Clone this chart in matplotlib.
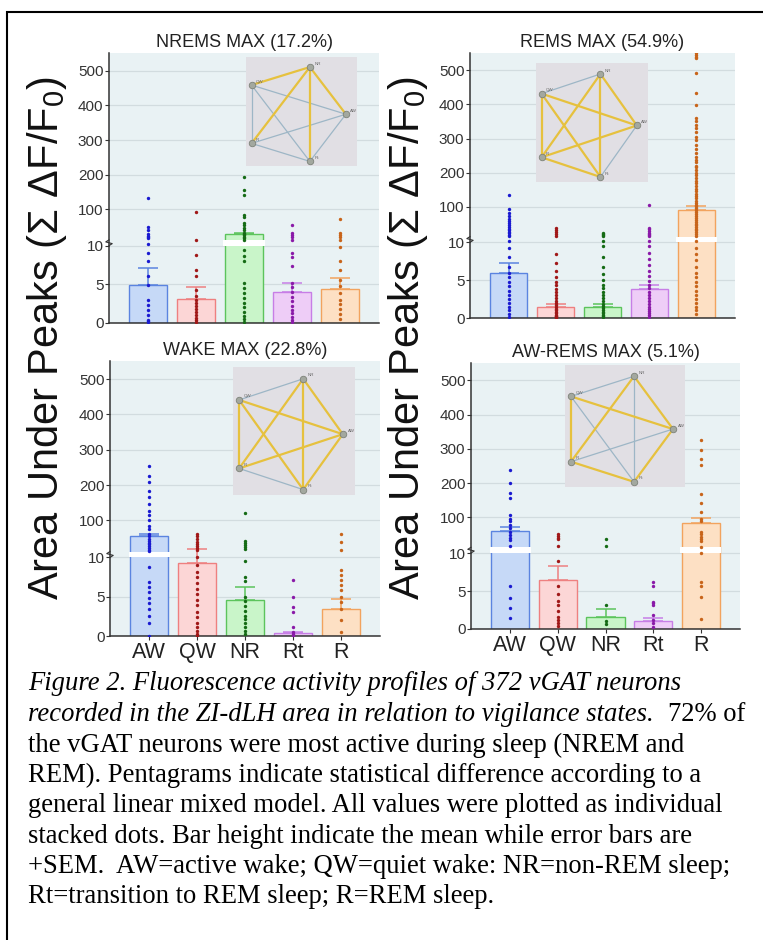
import numpy as np
import matplotlib
matplotlib.use("Agg")
import matplotlib.pyplot as plt
from matplotlib.patches import Rectangle

plt.rcParams['font.family'] = ['Liberation Sans', 'DejaVu Sans']
plt.rcParams['mathtext.fontset'] = 'custom'
plt.rcParams['mathtext.rm'] = 'Liberation Sans'
plt.rcParams['mathtext.it'] = 'Liberation Sans:italic'

# ---- data ----
states = ["AW", "QW", "NR", "Rt", "R"]
titles = ["NREMS MAX (17.2%)", "REMS MAX (54.9%)", "WAKE MAX (22.8%)", "AW-REMS MAX (5.1%)"]

nrems_mean = [4.9, 3.1, 27.6, 4.0, 4.4]
nrems_sem = [2.15, 1.5, 5.4, 1.1, 1.35]
nrems_dots = [
    [132, 50, 40, 28, 24, 20, 18, 10.5, 9, 8, 6, 4.9, 2.9, 2.3, 1.6, 1.0, 0.4, 0.2, 0.1],
    [93, 13, 8.8, 6.9, 6, 4.2, 3.5, 3.0, 2.6, 2.2, 1.8, 1.4, 1.0, 0.6, 0.3, 0.1],
    [194, 157, 141, 83, 78, 62, 55, 47, 40, 33, 29, 25, 20, 16, 12.5, 9.4, 8.6, 8.0,
     5.1, 4.5, 3.8, 3.2, 2.5, 2.0, 1.4, 0.9, 0.5, 0.1],
    [54, 31, 26, 19, 13, 9, 8.5, 7.4, 5.1, 4.6, 4.0, 3.4, 2.8, 2.2, 1.7, 1.2, 0.8, 0.4, 0.1],
    [72, 33, 27, 20, 12, 9.8, 8, 6.8, 5.6, 4.8, 3.9, 3.0, 2.4, 1.8, 1.1, 0.5],
]

rems_mean = [6.0, 1.5, 1.5, 3.8, 91]
rems_sem = [1.3, 0.35, 0.4, 0.6, 10]
rems_dots = [
    [135, 93, 81, 72, 65, 58, 52, 46, 40, 35, 30, 26, 22, 18, 14, 10.3, 9.2, 8.1, 6.8,
     6.0, 5.4, 4.8, 4.2, 3.6, 3.0, 2.5, 2.0, 1.5, 1.0, 0.5, 0.1],
    [37, 30, 25, 20, 15, 8.4, 7.2, 6.2, 5.4, 4.8, 4.3, 3.8, 3.4, 3.0, 2.6, 2.3, 2.0, 1.7,
     1.4, 1.2, 1.0, 0.8, 0.6, 0.4, 0.3, 0.2, 0.1, 0.05],
    [22, 19, 16, 13, 10.5, 9.5, 8.0, 6.8, 5.8, 5.0, 4.4, 3.9, 3.4, 3.0, 2.6, 2.2, 1.9,
     1.6, 1.3, 1.0, 0.8, 0.6, 0.4, 0.25, 0.1],
    [105, 37, 33, 28, 24, 20, 16, 13, 10.5, 9.5, 8.6, 7.8, 7.0, 6.2, 5.5, 4.9, 4.4, 3.9,
     3.4, 3.0, 2.6, 2.2, 1.8, 1.5, 1.2, 0.9, 0.6, 0.35, 0.1],
    [550, 545, 540, 535, 492, 433, 399, 360, 350, 340, 330, 318, 305, 295, 282, 270, 258,
     245, 238, 230, 220, 217, 208, 200, 192, 184, 176, 168, 160, 152, 145, 138, 131, 125,
     118, 112, 106, 101, 96, 90, 84, 78, 72, 66, 60, 55, 50, 45, 40, 35, 30, 25, 20, 15,
     10.5, 9.2, 8.4, 7.6, 6.8, 6.0, 5.4, 4.8, 4.2, 3.6, 3.0, 2.5, 2.0, 1.5, 1.0, 0.5],
]

wake_mean = [55, 9.35, 4.6, 0.34, 3.4]
wake_sem = [6, 9.35, 1.7, 0.16, 1.3]
wake_dots = [
    [255, 227, 210, 184, 165, 147, 128, 115, 100, 85, 75, 62, 55, 48, 42, 37, 34, 28, 22,
     17, 13, 8.8, 6.9, 6.2, 5.6, 4.9, 4.2, 3.4, 2.5, 1.6, 0.05],
    [61, 55, 48, 40, 34, 28, 22, 15, 10, 9.0, 8.2, 7.5, 6.8, 6.0, 5.3, 4.6, 3.9, 3.1, 2.4,
     1.7, 1.2, 0.7, 0.3, 0.05],
    [121, 41, 36, 31, 25, 20, 9.6, 7.5, 7.0, 5.0, 4.4, 3.8, 3.2, 2.6, 2.2, 1.7, 1.1, 0.6, 0.2],
    [7.1, 5.0, 3.7, 3.0, 1.2, 0.55, 0.3, 0.05],
    [61, 38, 17.6, 8.4, 7.8, 7.1, 6.5, 5.8, 5.0, 4.3, 3.4, 2.0, 0.5],
]

awrems_mean = [60, 6.5, 1.6, 1.05, 83]
awrems_sem = [11, 1.8, 1.0, 0.35, 16]
awrems_dots = [
    [237, 200, 171, 157, 106, 95, 90, 77, 68, 57, 48, 40, 32, 17, 5.6, 4.1, 2.8, 1.4],
    [50, 44, 40, 35, 17, 9.0, 5.6, 4.6, 3.7, 3.2, 2.4, 1.6, 1.2, 0.8, 0.4],
    [37.5, 17, 3.2, 1.0, 0.6],
    [6.2, 5.6, 3.6, 3.4, 3.2, 1.8, 1.2, 0.8, 0.2],
    [326, 297, 271, 254, 169, 142, 115, 96, 88, 57, 50, 43, 37, 30, 13, 10, 6.2, 5.6, 4.2, 1.3],
]

# significant pairs (yellow) in each pentagram, all other pairs grey-blue
nodes = ["AW", "NR", "QW", "R", "Rt"]
sig_nrems = [("QW", "NR"), ("NR", "AW"), ("NR", "R"), ("NR", "Rt")]
sig_rems = [("QW", "AW"), ("QW", "R"), ("QW", "Rt"), ("NR", "R"), ("NR", "Rt"),
            ("R", "AW"), ("R", "Rt"), ("NR", "AW")]
sig_wake = [("QW", "AW"), ("QW", "R"), ("QW", "Rt"), ("NR", "AW"), ("NR", "R"),
            ("NR", "Rt"), ("AW", "R"), ("AW", "Rt")]
sig_awrems = [("QW", "AW"), ("QW", "R"), ("NR", "AW"), ("NR", "R"), ("AW", "Rt"), ("R", "Rt")]

yticks = [0, 5, 10, 100, 200, 300, 400, 500]

fill_c = ['#c6d9f7', '#fcd6d6', '#c9f5c9', '#eecdf7', '#fde0c4']
edge_c = ['#5b84e0', '#ee8080', '#5cc45c', '#c77ee6', '#f2a35e']
dot_c = ['#1a1ad0', '#a01818', '#156b15', '#8a1aa8', '#c8641a']


# broken y axis: 0-10 linear, small gap 10-12, then compressed linear
def fwd(v):
    v = np.asarray(v, dtype=float)
    return np.where(v <= 10, v / 5, np.where(v <= 12, 2 + (v - 10) * 0.075, 2.15 + (v - 12) * 0.009))


def inv(p):
    p = np.asarray(p, dtype=float)
    return np.where(p <= 2, p * 5, np.where(p <= 2.15, 10 + (p - 2) / 0.075, 12 + (p - 2.15) / 0.009))


W, H = 763, 940
fig = plt.figure(figsize=(W / 100, H / 100), dpi=100)


def px_axes(l, r, t, b):
    return fig.add_axes([l / W, 1 - b / H, (r - l) / W, (b - t) / H])


panels = [
    (nrems_mean, nrems_sem, nrems_dots, sig_nrems, (109, 379, 53, 322.7), (246, 357, 57, 166), False),
    (rems_mean, rems_sem, rems_dots, sig_rems, (470, 735, 53, 318), (536, 648, 63, 182), False),
    (wake_mean, wake_sem, wake_dots, sig_wake, (110, 380, 361, 636), (233, 355, 367, 495), True),
    (awrems_mean, awrems_sem, awrems_dots, sig_awrems, (471, 740, 363, 629), (565, 685, 365, 487), True),
]

x = np.arange(len(states))
for k, (means, sems, dots, sig, box, ibox, xlab) in enumerate(panels):
    ax = px_axes(*box)
    ax.set_yscale('function', functions=(fwd, inv))
    ax.set_facecolor('#e9f2f4')
    ax.set_xlim(-0.82, 4.82)
    ax.set_ylim(0, 551)
    ax.set_yticks(yticks)
    ax.set_yticklabels([str(t) for t in yticks])
    ax.yaxis.grid(True, color='#d2dcdf', lw=0.9)
    ax.set_axisbelow(True)
    for s in ['top', 'right']:
        ax.spines[s].set_visible(False)
    for s in ['left', 'bottom']:
        ax.spines[s].set_color('#333333')
        ax.spines[s].set_linewidth(1.1)
    ax.tick_params(axis='y', labelsize=11, colors='#333333', length=3, pad=1)
    ax.set_xticks(x)
    if xlab:
        ax.set_xticklabels(states, fontsize=15.5)
        ax.tick_params(axis='x', length=3, pad=1, colors='#333333', labelcolor='#222222')
    else:
        ax.set_xticklabels([])
        ax.tick_params(axis='x', length=0)
    ax.set_title(titles[k], fontsize=13, pad=4, color='#222222')

    ax.bar(x, means, width=0.8, color=fill_c, edgecolor=edge_c, lw=1.0, zorder=2)
    for i in range(len(states)):
        if means[i] > 12:
            ax.bar(x[i], 2, bottom=10, width=0.86, color='white', lw=0, zorder=2.5)
        ax.errorbar(x[i], means[i], yerr=[[0], [sems[i]]], color=edge_c[i], lw=1.1,
                    capsize=7, capthick=1.1, zorder=3)
        ax.scatter(np.full(len(dots[i]), x[i]), dots[i], s=6, color=dot_c[i], lw=0, zorder=4)

    # axis break mark at 10
    ax.plot([0, 0.012, -0.012, 0], [10, 10.7, 11.3, 12], transform=ax.get_yaxis_transform(),
            color='#333333', lw=0.8, clip_on=False, zorder=5)

    # pentagram inset
    ia = px_axes(*ibox)
    ia.set_facecolor('#e1dfe4')
    ia.set_xlim(0, 1)
    ia.set_ylim(0, 1)
    ia.set_xticks([])
    ia.set_yticks([])
    for s in ia.spines.values():
        s.set_visible(False)
    ang = np.deg2rad(np.arange(5) * 72)
    pos = {n: (0.43 + 0.47 * np.cos(a), 0.475 + 0.455 * np.sin(a)) for n, a in zip(nodes, ang)}
    sig_set = {frozenset(p) for p in sig}
    for a_i in range(5):
        for b_i in range(a_i + 1, 5):
            na, nb = nodes[a_i], nodes[b_i]
            if frozenset((na, nb)) in sig_set:
                c, lw, z = '#e6c13e', 1.6, 2
            else:
                c, lw, z = '#9db6c6', 0.9, 1
            ia.plot([pos[na][0], pos[nb][0]], [pos[na][1], pos[nb][1]], color=c, lw=lw, zorder=z)
    for n in nodes:
        ia.scatter(*pos[n], s=22, color='#a3a89f', edgecolor='#7d8279', lw=0.6, zorder=3)
        ia.text(pos[n][0] + 0.04, pos[n][1] + 0.02, n, fontsize=3.2, color='#666666', zorder=4)

# shared y labels
ylab = r"Area Under Peaks ($\Sigma$ $\Delta$F/F$_0$)"
fig.text(47 / W, 1 - 338 / H, ylab, rotation=90, fontsize=30, ha='center', va='center', color='#111111')
fig.text(408 / W, 1 - 338 / H, ylab, rotation=90, fontsize=30, ha='center', va='center', color='#111111')

# caption
serif = ['Liberation Serif', 'DejaVu Serif']
cap_fs = 19.2
cap_x = 28 / W
base = [690, 720.7, 751.7, 781.7, 812, 842.7, 872.7, 902.7]
fig.text(cap_x, 1 - base[0] / H, "Figure 2. Fluorescence activity profiles of 372 vGAT neurons",
         family=serif, style='italic', fontsize=cap_fs, va='baseline')
t2 = fig.text(cap_x, 1 - base[1] / H, "recorded in the ZI-dLH area in relation to vigilance states.",
              family=serif, style='italic', fontsize=cap_fs, va='baseline')
fig.canvas.draw()
ext = t2.get_window_extent(fig.canvas.get_renderer())
fig.text((ext.x1 + 14) / W, 1 - base[1] / H, "72% of", family=serif, fontsize=cap_fs, va='baseline')
rest = [
    "the vGAT neurons were most active during sleep (NREM and",
    "REM). Pentagrams indicate statistical difference according to a",
    "general linear mixed model. All values were plotted as individual",
    "stacked dots. Bar height indicate the mean while error bars are",
    "+SEM.  AW=active wake; QW=quiet wake: NR=non-REM sleep;",
    "Rt=transition to REM sleep; R=REM sleep.",
]
for line, b in zip(rest, base[2:]):
    fig.text(cap_x, 1 - b / H, line, family=serif, fontsize=cap_fs, va='baseline')

# outer frame
fig.patches.append(Rectangle((7 / W, -0.05), 1.2, 1 - 12 / H + 0.05, transform=fig.transFigure,
                             fill=False, edgecolor='black', lw=1.5))

fig.savefig("out.png", dpi=100)
